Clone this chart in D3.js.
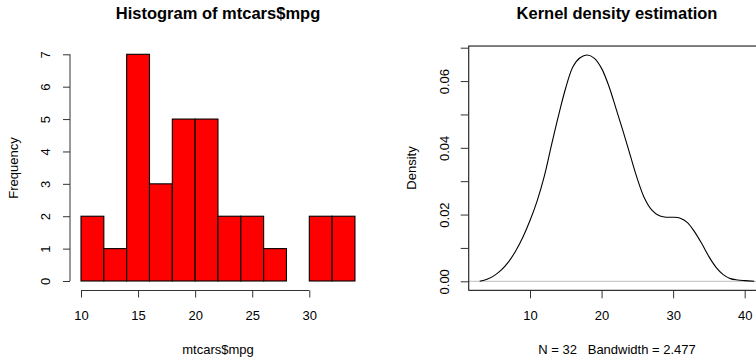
<!DOCTYPE html>
<html>
<head>
<meta charset="utf-8">
<script src="https://cdn.jsdelivr.net/npm/d3@7"></script>
<style>
  html, body { margin: 0; padding: 0; background: #fff; }
  svg { display: block; font-family: "Liberation Sans", Arial, Helvetica, sans-serif; }
  .pre { white-space: pre; }
</style>
</head>
<body>
<svg id="chart" width="756" height="359"></svg>
<script>
// Histogram of mtcars$mpg: bin edges and counts
const binEdges = [10, 12, 14, 16, 18, 20, 22, 24, 26, 28, 30, 32, 34];
const binCounts = [2, 1, 7, 3, 5, 5, 2, 2, 1, 0, 2, 2];
const histXTicks = [10, 15, 20, 25, 30];
const histYTicks = [0, 1, 2, 3, 4, 5, 6, 7];

// Kernel density estimate of mpg (N = 32, bandwidth = 2.477)
const densX = [2.97, 4, 5, 6, 7, 8, 9, 10, 11, 12, 13, 14, 15, 16, 17, 18, 19, 20, 21, 22,
               23, 24, 25, 26, 27, 28, 29, 30, 31, 32, 33, 34, 35, 36, 37, 38, 39, 40, 41.33];
const densY = [0.0000, 0.0006, 0.0017, 0.0034, 0.0058, 0.0091, 0.0132, 0.0182, 0.0241, 0.0315,
               0.0408, 0.0498, 0.0580, 0.0643, 0.0670, 0.0678, 0.0668, 0.0638, 0.0586, 0.0519,
               0.0450, 0.0378, 0.0307, 0.0249, 0.0214, 0.0197, 0.0192, 0.0192, 0.0189, 0.0176,
               0.0148, 0.0113, 0.0074, 0.0042, 0.0020, 0.0008, 0.0004, 0.0002, 0.0000];
const densXTicks = [10, 20, 30, 40];
const densYTicks = [0, 0.01, 0.02, 0.03, 0.04, 0.05, 0.06, 0.07];
const densYLabels = [0, 0.02, 0.04, 0.06];

const svg = d3.select("#chart");
const axisColor = "#333";

// rotate left-axis tick labels to read bottom-to-top, centred on the tick
function rotateTickLabels(g, offset) {
  g.selectAll(".tick text")
    .attr("x", null).attr("dy", null).attr("y", 0)
    .attr("transform", `translate(${offset},0) rotate(-90)`)
    .attr("text-anchor", "middle")
    .attr("dominant-baseline", "central")
    .attr("font-size", 13).attr("fill", "#000");
}

// ---------- Left panel: histogram ----------
const hx = d3.scaleLinear().domain([10, 30]).range([81, 309.3]);
const hy = d3.scaleLinear().domain([0, 7]).range([281, 54.3]);
const left = svg.append("g");

const bins = binCounts.map((c, i) => ({ x0: binEdges[i], x1: binEdges[i + 1], n: c }));
left.selectAll("rect.bar").data(bins).join("rect")
  .attr("class", "bar")
  .attr("x", d => hx(d.x0))
  .attr("width", d => hx(d.x1) - hx(d.x0))
  .attr("y", d => hy(d.n))
  .attr("height", d => hy(0) - hy(d.n))
  .attr("fill", "#ff0000")
  .attr("stroke", "#000")
  .attr("stroke-width", 1.1);

// y axis
const hYAxis = left.append("g").attr("transform", "translate(70,0)")
  .call(d3.axisLeft(hy).tickValues(histYTicks).tickSize(7).tickFormat(d3.format("d")));
hYAxis.select(".domain").attr("d", `M0,${hy(0)}V${hy(7)}`).attr("stroke", axisColor);
hYAxis.selectAll("line").attr("stroke", axisColor);
rotateTickLabels(hYAxis, -25);

// x axis
const hXAxis = left.append("g").attr("transform", "translate(0,290.5)")
  .call(d3.axisBottom(hx).tickValues(histXTicks).tickSize(7).tickFormat(d3.format("d")));
hXAxis.select(".domain").attr("d", `M${hx(10)},0H${hx(30)}`).attr("stroke", axisColor);
hXAxis.selectAll("line").attr("stroke", axisColor);
hXAxis.selectAll("text").attr("y", 25).attr("dy", "0.35em")
  .attr("font-size", 13).attr("fill", "#000");

left.append("text").attr("x", 218).attr("y", 13).attr("text-anchor", "middle")
  .attr("dominant-baseline", "central").attr("font-weight", "bold").attr("font-size", 16.5)
  .text("Histogram of mtcars$mpg");
left.append("text").attr("x", 218).attr("y", 349).attr("text-anchor", "middle")
  .attr("dominant-baseline", "central").attr("font-size", 13)
  .text("mtcars$mpg");
left.append("text").attr("transform", "translate(13,168) rotate(-90)").attr("text-anchor", "middle")
  .attr("dominant-baseline", "central").attr("font-size", 13)
  .text("Frequency");

// ---------- Right panel: kernel density ----------
const dx = d3.scaleLinear().domain([10, 40]).range([530, 744.7]);
const dy = d3.scaleLinear().domain([0, 0.07]).range([281.3, 47.7]);
const right = svg.append("g");

const boxLeft = dx(1.44), boxRight = dx(42.87), boxTop = dy(0.0705), boxBottom = dy(-0.0027);

// zero reference line
right.append("line")
  .attr("x1", boxLeft).attr("x2", boxRight)
  .attr("y1", dy(0)).attr("y2", dy(0))
  .attr("stroke", "#bebebe").attr("stroke-width", 1);

const line = d3.line().x((d, i) => dx(densX[i])).y(d => dy(d)).curve(d3.curveCatmullRom.alpha(0.5));
right.append("path").attr("d", line(densY))
  .attr("fill", "none").attr("stroke", "#000").attr("stroke-width", 1.1);

right.append("rect")
  .attr("x", boxLeft).attr("y", boxTop)
  .attr("width", boxRight - boxLeft).attr("height", boxBottom - boxTop)
  .attr("fill", "none").attr("stroke", "#000").attr("stroke-width", 1);

const dYAxis = right.append("g").attr("transform", `translate(${boxLeft},0)`)
  .call(d3.axisLeft(dy).tickValues(densYTicks).tickSize(8)
    .tickFormat(d => densYLabels.some(v => Math.abs(v - d) < 1e-9) ? d3.format(".2f")(d) : ""));
dYAxis.select(".domain").remove();
dYAxis.selectAll("line").attr("stroke", axisColor);
rotateTickLabels(dYAxis, -24);

const dXAxis = right.append("g").attr("transform", `translate(0,${boxBottom})`)
  .call(d3.axisBottom(dx).tickValues(densXTicks).tickSize(8).tickFormat(d3.format("d")));
dXAxis.select(".domain").remove();
dXAxis.selectAll("line").attr("stroke", axisColor);
dXAxis.selectAll("text").attr("y", 25).attr("dy", "0.35em")
  .attr("font-size", 13).attr("fill", "#000");

right.append("text").attr("x", 617).attr("y", 13).attr("text-anchor", "middle")
  .attr("dominant-baseline", "central").attr("font-weight", "bold").attr("font-size", 16.5)
  .text("Kernel density estimation");
right.append("text").attr("class", "pre").attr("x", 617).attr("y", 349).attr("text-anchor", "middle")
  .attr("dominant-baseline", "central").attr("font-size", 13)
  .text("N = 32   Bandwidth = 2.477");
right.append("text").attr("transform", "translate(411,168) rotate(-90)").attr("text-anchor", "middle")
  .attr("dominant-baseline", "central").attr("font-size", 13)
  .text("Density");
</script>
</body>
</html>
